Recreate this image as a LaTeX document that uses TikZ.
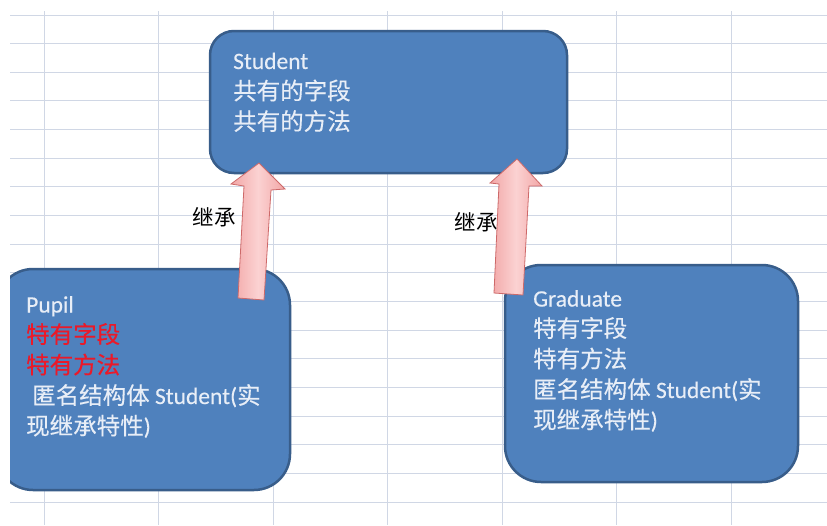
\documentclass[tikz,border=0pt]{standalone}
\usepackage{fontspec}
\setmainfont[FakeBold=0.3]{Carlito}
\newfontfamily\cjk[FakeBold=0.3]{Noto Sans CJK SC}
\newfontfamily\cjklabel{Noto Sans CJK SC}
\definecolor{gridc}{RGB}{208,215,229}
\definecolor{boxfill}{RGB}{79,129,189}
\definecolor{boxline}{RGB}{56,93,138}
\definecolor{boxtext}{RGB}{232,238,247}
\definecolor{redtext}{RGB}{235,25,40}
\definecolor{arrowline}{RGB}{205,105,105}
\definecolor{arrowedge}{RGB}{242,166,166}
\definecolor{arrowmid}{RGB}{251,210,210}
\begin{document}
\begin{tikzpicture}[x=1pt,y=-1pt,
  gridline/.style={draw=gridc, line width=1pt},
  classbox/.style={draw=boxline, line width=2.5pt, fill=boxfill, rounded corners=#1, inner sep=0pt},
  boxtxt/.style={anchor=north west, inner sep=0pt, align=left, text=boxtext, font=\fontsize{23.5pt}{30.5pt}\selectfont},
  inhlabel/.style={inner sep=0pt, font=\cjklabel\fontsize{21.5pt}{24pt}\selectfont, text=black},
  blockarrow/.style={draw=arrowline, line width=0.8pt, left color=arrowedge, right color=arrowedge, middle color=arrowmid, line join=miter}
]
\useasboundingbox (0,0) rectangle (827,525);
\fill[white] (0,0) rectangle (827,525);
% spreadsheet grid
\foreach \k in {0,...,17} {
  \draw[gridline] (10,{15+28.65*\k}) -- (827,{15+28.65*\k});
}
\foreach \k in {0,...,6} {
  \draw[gridline] ({44+114.5*\k},11) -- ({44+114.5*\k},525);
}
% class boxes
\node[classbox=24pt, minimum width=357pt, minimum height=142pt] (student) at (388.5,102) {};
\begin{scope}
  \clip (10,0) rectangle (827,525);
  \node[classbox=36pt, minimum width=293pt, minimum height=221pt] (pupil) at (143.5,379.5) {};
\end{scope}
\node[classbox=36pt, minimum width=293pt, minimum height=217pt] (graduate) at (651.5,373.5) {};
% box texts
\node[boxtxt] (studenttext) at (233,52.5) {Student\\{\cjk 共有的字段}\\{\cjk 共有的方法}};
\node[boxtxt] (pupiltext) at (26,296) {Pupil\\\textcolor{redtext}{\cjk 特有字段}\\\textcolor{redtext}{\cjk 特有方法}\\\hspace*{6pt}{\cjk 匿名结构体} Student({\cjk 实}\\{\cjk 现继承特性})};
\node[boxtxt] (graduatetext) at (533,290) {Graduate\\{\cjk 特有字段}\\{\cjk 特有方法}\\{\cjk 匿名结构体} Student({\cjk 实}\\{\cjk 现继承特性})};
% labels
\node[inhlabel] (lblleft) at (214,217) {继承};
\node[inhlabel] (lblright) at (476,222) {继承};
% left block arrow (Pupil -> Student)
\coordinate (la1) at (259,163);
\coordinate (la2) at (285,189);
\coordinate (la3) at (271,190);
\coordinate (la4) at (264,300);
\coordinate (la5) at (238,298);
\coordinate (la6) at (244,186);
\coordinate (la7) at (231,184);
\draw[blockarrow] (la1) -- (la2) -- (la3) -- (la4) -- (la5) -- (la6) -- (la7) -- cycle;
% right block arrow (Graduate -> Student)
\coordinate (ra1) at (517,159);
\coordinate (ra2) at (542,186);
\coordinate (ra3) at (529,186);
\coordinate (ra4) at (523,295);
\coordinate (ra5) at (494,293);
\coordinate (ra6) at (499,184);
\coordinate (ra7) at (490,183);
\draw[blockarrow] (ra1) -- (ra2) -- (ra3) -- (ra4) -- (ra5) -- (ra6) -- (ra7) -- cycle;
\end{tikzpicture}
\end{document}
